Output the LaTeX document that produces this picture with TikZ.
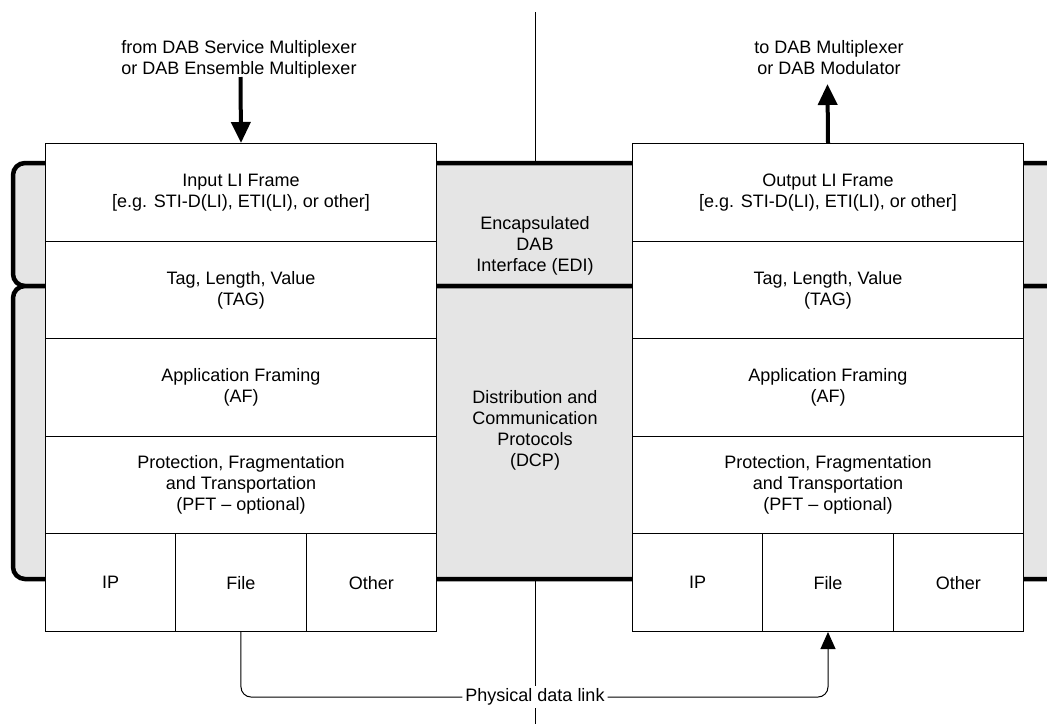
\documentclass[tikz,border=0pt]{standalone}
\usepackage{fontspec}
\setmainfont{Liberation Sans}
\usetikzlibrary{arrows.meta}
\begin{document}
\begin{tikzpicture}[x=1pt,y=-1pt,
  txt/.style={font=\fontsize{18}{21}\selectfont, align=center, text=black},
  cell/.style={txt, draw=black, line width=1pt, fill=white, minimum height=97.6pt, anchor=north west, inner sep=0pt},
  wide/.style={cell, minimum width=391pt},
  third/.style={cell, minimum width=130.33pt},
  band/.style={draw=black, line width=4.5pt, fill=black!10, rounded corners=12pt},
  heavy/.style={line width=4pt, -{Triangle[length=21pt,width=19pt]}},
  thin/.style={line width=1pt},
  link/.style={line width=1pt, rounded corners=10pt},
]
\path[use as bounding box, clip] (0,0) rectangle (1047,724);

% centre divider between the two ends
\coordinate (divA) at (535,12);
\coordinate (divB) at (535,170);
\coordinate (divC) at (535,575);
\coordinate (divD) at (535,724);
\draw[thin] (divA) -- (divB);
\draw[thin] (divC) -- (divD);

% EDI and DCP layer bands
\draw[band] (13,163) rectangle (1080,286);
\draw[band] (13,286) rectangle (1080,579);

% left protocol stack
\node[wide] (lin)  at (45,143)   {Input LI Frame\\{}[e.g. STI-D(LI), ETI(LI), or other]};
\node[wide] (ltag) at (45,240.6) {Tag, Length, Value\\(TAG)};
\node[wide] (laf)  at (45,338.2) {Application Framing\\(AF)};
\node[wide] (lpft) at (45,435.8) {Protection, Fragmentation\\and Transportation\\(PFT – optional)};
\node[third] (lip)    at (45,533.4)     {IP};
\node[third] (lfile)  at (175.33,533.4) {File};
\node[third] (lother) at (305.67,533.4) {Other};

% right protocol stack
\node[wide] (rout) at (632,143)   {Output LI Frame\\{}[e.g. STI-D(LI), ETI(LI), or other]};
\node[wide] (rtag) at (632,240.6) {Tag, Length, Value\\(TAG)};
\node[wide] (raf)  at (632,338.2) {Application Framing\\(AF)};
\node[wide] (rpft) at (632,435.8) {Protection, Fragmentation\\and Transportation\\(PFT – optional)};
\node[third] (rip)    at (632,533.4)     {IP};
\node[third] (rfile)  at (762.33,533.4) {File};
\node[third] (rother) at (892.67,533.4) {Other};

% layer names in the middle
\node[txt] (edi) at (535,246) {Encapsulated\\DAB\\Interface (EDI)};
\node[txt] (dcp) at (535,430) {Distribution and\\Communication\\Protocols\\(DCP)};

% input and output
\node[txt] (src) at (239,59) {from DAB Service Multiplexer\\or DAB Ensemble Multiplexer};
\node[txt] (dst) at (829,58) {to DAB Multiplexer\\or DAB Modulator};
\coordinate (inStart) at (240.5,77);
\coordinate (outTip) at (827.5,84);
\draw[heavy] (inStart) -- (lin.north);
\draw[heavy] (rout.north) -- (outTip);

% physical data link
\node[txt, fill=white, inner sep=3pt] (phy) at (535,697) {Physical data link};
\draw[link] (lfile.south) |- (phy.west);
\draw[link, -{Triangle[length=17pt,width=15pt]}] (phy.east) -| (rfile.south);
\end{tikzpicture}
\end{document}
